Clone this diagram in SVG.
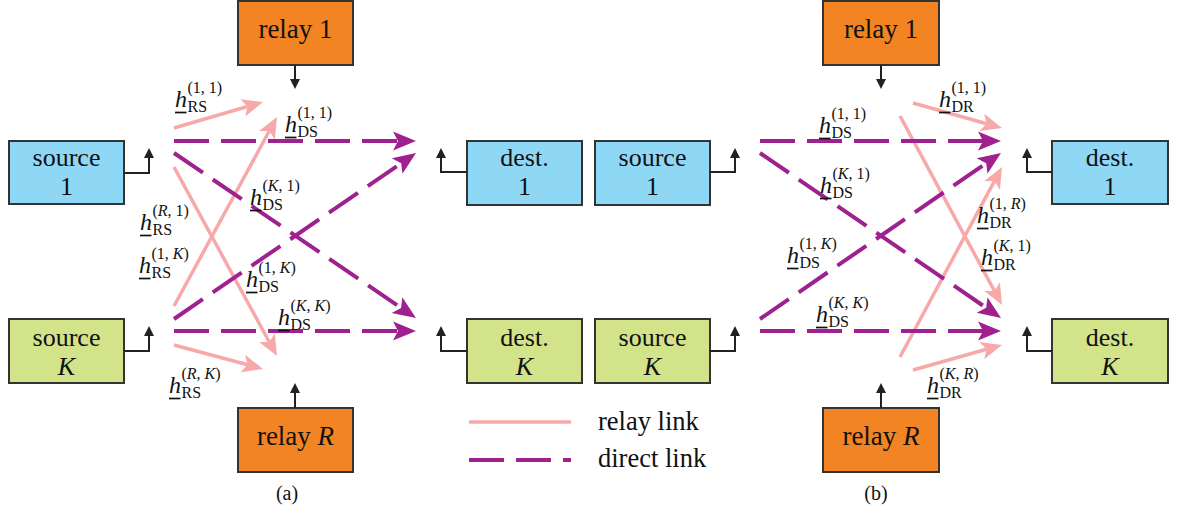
<svg xmlns="http://www.w3.org/2000/svg" width="1178" height="514" viewBox="0 0 1178 514">
  <style>
    .box { stroke: #333; stroke-width: 2; }
    .blue { fill: #8ed8f6; }
    .green { fill: #d3e389; }
    .orange { fill: #f28423; }
    .name { font-family: "Liberation Serif", "Times New Roman", serif; font-size: 26px; text-anchor: middle; fill: #111; }
    .relayname { font-size: 27px; }
    .it { font-style: italic; }
    .ant { fill: none; stroke: #222; stroke-width: 2; }
    .direct { fill: none; stroke: #9f2190; stroke-width: 4; stroke-dasharray: 35 12; }
    .relaylink { fill: none; stroke: #f7a9a9; stroke-width: 3.5; }
    .lab { font-family: "Liberation Serif", "Times New Roman", serif; font-size: 16px; fill: #111; }
    .h { font-size: 24px; font-style: italic; }
    .ul { stroke: #111; stroke-width: 1.7; }
    .cap { font-family: "Liberation Serif", "Times New Roman", serif; font-size: 20px; text-anchor: middle; fill: #111; }
    .leg { font-family: "Liberation Serif", "Times New Roman", serif; font-size: 26.5px; fill: #111; }
  </style>
  <defs>
    <marker id="ah-direct" markerUnits="userSpaceOnUse" markerWidth="26" markerHeight="24" viewBox="0 -12 26 24" refX="5" refY="0" orient="auto">
      <path d="M0,-9.5 L23,0 L0,9.5 L5,0 Z" fill="#9f2190"/>
    </marker>
    <marker id="ah-relay" markerUnits="userSpaceOnUse" markerWidth="24" markerHeight="22" viewBox="0 -11 24 22" refX="5" refY="0" orient="auto">
      <path d="M0,-9 L21,0 L0,9 L5,0 Z" fill="#f7a9a9"/>
    </marker>
    <marker id="ah-ant" markerUnits="userSpaceOnUse" markerWidth="12" markerHeight="12" viewBox="0 -6 12 12" refX="1" refY="0" orient="auto">
      <path d="M0,-5 L10,0 L0,5 Z" fill="#222"/>
    </marker>
  </defs>

  <!-- (a) panel nodes -->
  <g id="a-source-1">
    <rect class="box blue" x="9" y="141" width="115" height="63"/>
    <text class="name" x="66.5" y="166">source</text>
    <text class="name" x="66.5" y="195">1</text>
    <polyline class="ant" points="124,173 149,173 149,157" marker-end="url(#ah-ant)"/>
  </g>
  <g id="a-source-K">
    <rect class="box green" x="9" y="319" width="115" height="64"/>
    <text class="name" x="66.5" y="346">source</text>
    <text class="name it" x="66.5" y="375">K</text>
    <polyline class="ant" points="124,351 149,351 149,335" marker-end="url(#ah-ant)"/>
  </g>
  <g id="a-relay-1">
    <rect class="box orange" x="238" y="1" width="115" height="64"/>
    <text class="name relayname" x="295.5" y="38">relay 1</text>
    <line class="ant" x1="295" y1="65" x2="295" y2="80" marker-end="url(#ah-ant)"/>
  </g>
  <g id="a-relay-R">
    <rect class="box orange" x="238" y="408" width="115" height="64"/>
    <text class="name relayname" x="295.5" y="445">relay <tspan class="it">R</tspan></text>
    <line class="ant" x1="295" y1="408" x2="295" y2="392" marker-end="url(#ah-ant)"/>
  </g>
  <g id="a-dest-1">
    <rect class="box blue" x="467" y="141" width="115" height="64"/>
    <text class="name" x="524.5" y="166">dest.</text>
    <text class="name" x="524.5" y="195">1</text>
    <polyline class="ant" points="467,172 441,172 441,157" marker-end="url(#ah-ant)"/>
  </g>
  <g id="a-dest-K">
    <rect class="box green" x="467" y="319" width="115" height="64"/>
    <text class="name" x="524.5" y="346">dest.</text>
    <text class="name it" x="524.5" y="375">K</text>
    <polyline class="ant" points="467,351 441,351 441,335" marker-end="url(#ah-ant)"/>
  </g>

  <!-- (b) panel nodes -->
  <g id="b-source-1">
    <rect class="box blue" x="595" y="141" width="115" height="64"/>
    <text class="name" x="652.5" y="166">source</text>
    <text class="name" x="652.5" y="195">1</text>
    <polyline class="ant" points="710,172 735,172 735,157" marker-end="url(#ah-ant)"/>
  </g>
  <g id="b-source-K">
    <rect class="box green" x="595" y="319" width="115" height="64"/>
    <text class="name" x="652.5" y="346">source</text>
    <text class="name it" x="652.5" y="375">K</text>
    <polyline class="ant" points="710,351 735,351 735,335" marker-end="url(#ah-ant)"/>
  </g>
  <g id="b-relay-1">
    <rect class="box orange" x="823" y="1" width="116" height="64"/>
    <text class="name relayname" x="881" y="38">relay 1</text>
    <line class="ant" x1="881" y1="65" x2="881" y2="80" marker-end="url(#ah-ant)"/>
  </g>
  <g id="b-relay-R">
    <rect class="box orange" x="823" y="408" width="116" height="64"/>
    <text class="name relayname" x="881" y="445">relay <tspan class="it">R</tspan></text>
    <line class="ant" x1="881" y1="408" x2="881" y2="392" marker-end="url(#ah-ant)"/>
  </g>
  <g id="b-dest-1">
    <rect class="box blue" x="1052" y="141" width="116" height="63"/>
    <text class="name" x="1110" y="166">dest.</text>
    <text class="name" x="1110" y="195">1</text>
    <polyline class="ant" points="1052,172 1027,172 1027,157" marker-end="url(#ah-ant)"/>
  </g>
  <g id="b-dest-K">
    <rect class="box green" x="1052" y="319" width="116" height="64"/>
    <text class="name" x="1110" y="346">dest.</text>
    <text class="name it" x="1110" y="375">K</text>
    <polyline class="ant" points="1052,351 1027,351 1027,335" marker-end="url(#ah-ant)"/>
  </g>

  <!-- connectors -->
  <g id="connectors">
    <!-- (a) relay links -->
    <line class="relaylink" x1="174" y1="128" x2="247.6" y2="106.5" marker-end="url(#ah-relay)"/>
    <line class="relaylink" x1="174" y1="167" x2="269.3" y2="342" marker-end="url(#ah-relay)"/>
    <line class="relaylink" x1="174" y1="306" x2="269.3" y2="131" marker-end="url(#ah-relay)"/>
    <line class="relaylink" x1="174" y1="345" x2="247.6" y2="364.8" marker-end="url(#ah-relay)"/>
    <!-- (a) direct links -->
    <line class="direct" x1="174" y1="141" x2="398" y2="141" marker-end="url(#ah-direct)"/>
    <line class="direct" x1="174" y1="153" x2="401.1" y2="307.9" marker-end="url(#ah-direct)"/>
    <line class="direct" x1="174" y1="319" x2="401.2" y2="163.2" marker-end="url(#ah-direct)"/>
    <line class="direct" x1="174" y1="331" x2="398" y2="331" marker-end="url(#ah-direct)"/>
    <!-- (b) relay links -->
    <line class="relaylink" x1="913" y1="103" x2="986.6" y2="123.7" marker-end="url(#ah-relay)"/>
    <line class="relaylink" x1="900" y1="116" x2="994.4" y2="290.9" marker-end="url(#ah-relay)"/>
    <line class="relaylink" x1="900" y1="357" x2="994.4" y2="181.1" marker-end="url(#ah-relay)"/>
    <line class="relaylink" x1="913" y1="370" x2="986.6" y2="349.3" marker-end="url(#ah-relay)"/>
    <!-- (b) direct links -->
    <line class="direct" x1="760" y1="141" x2="983" y2="141" marker-end="url(#ah-direct)"/>
    <line class="direct" x1="760" y1="153" x2="986.2" y2="307.8" marker-end="url(#ah-direct)"/>
    <line class="direct" x1="760" y1="319" x2="986.2" y2="163.2" marker-end="url(#ah-direct)"/>
    <line class="direct" x1="760" y1="331" x2="983" y2="331" marker-end="url(#ah-direct)"/>
  </g>

  <!-- channel labels: underlined h, link type as subscript, index pair as superscript -->
  <g id="channel-labels">
    <g transform="translate(175,107)"><text class="lab"><tspan class="h">h</tspan><tspan x="12.5" dy="4.5">RS</tspan><tspan x="12.5" dy="-18.5">(1, 1)</tspan></text><line class="ul" x1="0" y1="5.5" x2="11.5" y2="5.5"/></g>
    <g transform="translate(285,132)"><text class="lab"><tspan class="h">h</tspan><tspan x="12.5" dy="4.5">DS</tspan><tspan x="12.5" dy="-18.5">(1, 1)</tspan></text><line class="ul" x1="0" y1="5.5" x2="11.5" y2="5.5"/></g>
    <g transform="translate(250,205)"><text class="lab"><tspan class="h">h</tspan><tspan x="12.5" dy="4.5">DS</tspan><tspan x="12.5" dy="-18.5">(<tspan class="it">K</tspan>, 1)</tspan></text><line class="ul" x1="0" y1="5.5" x2="11.5" y2="5.5"/></g>
    <g transform="translate(140,230)"><text class="lab"><tspan class="h">h</tspan><tspan x="12.5" dy="4.5">RS</tspan><tspan x="12.5" dy="-18.5">(<tspan class="it">R</tspan>, 1)</tspan></text><line class="ul" x1="0" y1="5.5" x2="11.5" y2="5.5"/></g>
    <g transform="translate(139,273)"><text class="lab"><tspan class="h">h</tspan><tspan x="12.5" dy="4.5">RS</tspan><tspan x="12.5" dy="-18.5">(1, <tspan class="it">K</tspan>)</tspan></text><line class="ul" x1="0" y1="5.5" x2="11.5" y2="5.5"/></g>
    <g transform="translate(246,287)"><text class="lab"><tspan class="h">h</tspan><tspan x="12.5" dy="4.5">DS</tspan><tspan x="12.5" dy="-18.5">(1, <tspan class="it">K</tspan>)</tspan></text><line class="ul" x1="0" y1="5.5" x2="11.5" y2="5.5"/></g>
    <g transform="translate(278,325)"><text class="lab"><tspan class="h">h</tspan><tspan x="12.5" dy="4.5">DS</tspan><tspan x="12.5" dy="-18.5">(<tspan class="it">K</tspan>, <tspan class="it">K</tspan>)</tspan></text><line class="ul" x1="0" y1="5.5" x2="11.5" y2="5.5"/></g>
    <g transform="translate(169,393)"><text class="lab"><tspan class="h">h</tspan><tspan x="12.5" dy="4.5">RS</tspan><tspan x="12.5" dy="-18.5">(<tspan class="it">R</tspan>, <tspan class="it">K</tspan>)</tspan></text><line class="ul" x1="0" y1="5.5" x2="11.5" y2="5.5"/></g>

    <g transform="translate(939,107)"><text class="lab"><tspan class="h">h</tspan><tspan x="12.5" dy="4.5">DR</tspan><tspan x="12.5" dy="-18.5">(1, 1)</tspan></text><line class="ul" x1="0" y1="5.5" x2="11.5" y2="5.5"/></g>
    <g transform="translate(819,133)"><text class="lab"><tspan class="h">h</tspan><tspan x="12.5" dy="4.5">DS</tspan><tspan x="12.5" dy="-18.5">(1, 1)</tspan></text><line class="ul" x1="0" y1="5.5" x2="11.5" y2="5.5"/></g>
    <g transform="translate(820,193)"><text class="lab"><tspan class="h">h</tspan><tspan x="12.5" dy="4.5">DS</tspan><tspan x="12.5" dy="-18.5">(<tspan class="it">K</tspan>, 1)</tspan></text><line class="ul" x1="0" y1="5.5" x2="11.5" y2="5.5"/></g>
    <g transform="translate(977,223)"><text class="lab"><tspan class="h">h</tspan><tspan x="12.5" dy="4.5">DR</tspan><tspan x="12.5" dy="-18.5">(1, <tspan class="it">R</tspan>)</tspan></text><line class="ul" x1="0" y1="5.5" x2="11.5" y2="5.5"/></g>
    <g transform="translate(981,265)"><text class="lab"><tspan class="h">h</tspan><tspan x="12.5" dy="4.5">DR</tspan><tspan x="12.5" dy="-18.5">(<tspan class="it">K</tspan>, 1)</tspan></text><line class="ul" x1="0" y1="5.5" x2="11.5" y2="5.5"/></g>
    <g transform="translate(787,263)"><text class="lab"><tspan class="h">h</tspan><tspan x="12.5" dy="4.5">DS</tspan><tspan x="12.5" dy="-18.5">(1, <tspan class="it">K</tspan>)</tspan></text><line class="ul" x1="0" y1="5.5" x2="11.5" y2="5.5"/></g>
    <g transform="translate(816,322)"><text class="lab"><tspan class="h">h</tspan><tspan x="12.5" dy="4.5">DS</tspan><tspan x="12.5" dy="-18.5">(<tspan class="it">K</tspan>, <tspan class="it">K</tspan>)</tspan></text><line class="ul" x1="0" y1="5.5" x2="11.5" y2="5.5"/></g>
    <g transform="translate(927,393)"><text class="lab"><tspan class="h">h</tspan><tspan x="12.5" dy="4.5">DR</tspan><tspan x="12.5" dy="-18.5">(<tspan class="it">K</tspan>, <tspan class="it">R</tspan>)</tspan></text><line class="ul" x1="0" y1="5.5" x2="11.5" y2="5.5"/></g>
  </g>

  <!-- legend -->
  <g id="legend">
    <line class="relaylink" x1="469" y1="422" x2="571" y2="422"/>
    <text class="leg" x="598" y="430">relay link</text>
    <line class="direct" x1="469" y1="460" x2="571" y2="460"/>
    <text class="leg" x="598" y="467">direct link</text>
  </g>

  <!-- panel captions -->
  <text class="cap" x="287" y="500">(a)</text>
  <text class="cap" x="876" y="500">(b)</text>
</svg>
